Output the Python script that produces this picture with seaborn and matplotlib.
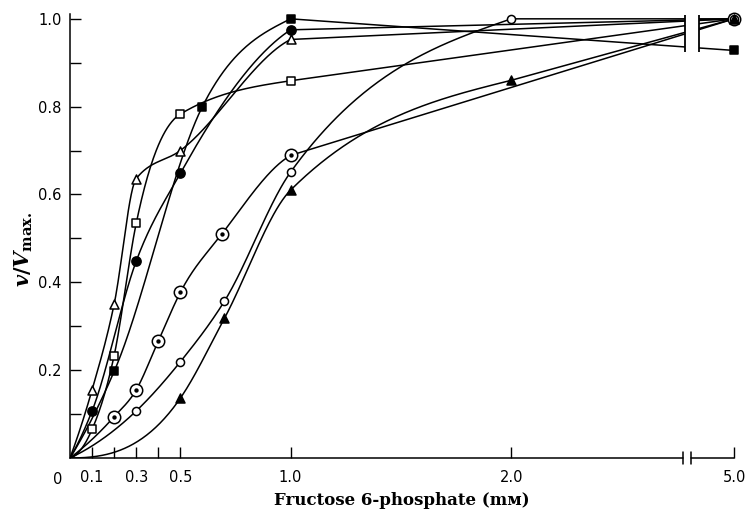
import numpy as np
import matplotlib
matplotlib.use("Agg")
import matplotlib.pyplot as plt
import seaborn as sns

# ---------------- data ----------------
open_tri_x = [0.1, 0.2, 0.3, 0.5, 1.0, 5.0]
open_tri_v = [0.155, 0.35, 0.636, 0.70, 0.953, 1.0]

open_sq_x = [0.1, 0.2, 0.3, 0.5, 1.0, 5.0]
open_sq_v = [0.065, 0.233, 0.534, 0.783, 0.859, 1.0]

fill_sq_x = [0.2, 0.6, 1.0, 5.0]
fill_sq_v = [0.197, 0.80, 1.0, 0.928]

fill_circ_x = [0.1, 0.3, 0.5, 1.0, 5.0]
fill_circ_v = [0.107, 0.448, 0.648, 0.975, 1.0]

dot_circ_x = [0.2, 0.3, 0.4, 0.5, 0.69, 1.0, 5.0]
dot_circ_v = [0.094, 0.155, 0.266, 0.377, 0.511, 0.689, 1.0]

open_circ_x = [0.3, 0.5, 0.7, 1.0, 2.0, 5.0]
open_circ_v = [0.107, 0.219, 0.357, 0.651, 1.0, 1.0]

fill_tri_x = [0.5, 0.7, 1.0, 2.0, 5.0]
fill_tri_v = [0.136, 0.318, 0.61, 0.86, 1.0]

x_ticks = [0.1, 0.2, 0.3, 0.4, 0.5, 1.0, 2.0, 5.0]
x_tick_labels = ["0.1", "", "0.3", "", "0.5", "1.0", "2.0", "5.0"]
y_ticks = [0.1, 0.2, 0.3, 0.4, 0.5, 0.6, 0.7, 0.8, 0.9, 1.0]
y_tick_labels = ["", "0.2", "", "0.4", "", "0.6", "", "0.8", "", "1.0"]

x_label = "Fructose 6-phosphate (mᴍ)"
y_label = r"$v/V_{\mathrm{max.}}$"

# ---------------- style ----------------
sns.set_theme(style="ticks")
plt.rcParams["font.family"] = ["DejaVu Sans"]
plt.rcParams["mathtext.fontset"] = "custom"
plt.rcParams["mathtext.it"] = "DejaVu Serif:italic:bold"
plt.rcParams["mathtext.rm"] = "DejaVu Serif:bold"
plt.rcParams["mathtext.bf"] = "DejaVu Serif:bold"

# broken x axis: piecewise linear scale
L_BRK, R_BRK = 2.79, 4.8
GAP_U = 0.06
S_RIGHT = 0.8
kx = np.array([-1.0, 0.0, L_BRK, R_BRK, 10.0])
ku = np.array([-1.0, 0.0, L_BRK, L_BRK + GAP_U, L_BRK + GAP_U + (10.0 - R_BRK) * S_RIGHT])


def fwd(x):
    return np.interp(x, kx, ku)


def inv(u):
    return np.interp(u, ku, kx)


def smooth_curve(x, y, xs):
    """Cubic Hermite curve with smooth slopes, limited to avoid
    overshoot and spurious wiggles."""
    x = np.asarray(x, float)
    y = np.asarray(y, float)
    n = len(x)
    h = np.diff(x)
    d = np.diff(y) / h
    m = np.gradient(y, x, edge_order=2)
    m[0] = max(m[0], 0.0)
    m[-1] = 0.5 * d[-1]
    for k in range(1, n - 1):
        m[k] = max(0.0, min(m[k], 2.0 * d[k], 3.0 * d[k - 1]))
    m[0] = min(m[0], 2.0 * d[0])
    idx = np.clip(np.searchsorted(x, xs) - 1, 0, n - 2)
    t = (xs - x[idx]) / h[idx]
    h00 = 2 * t**3 - 3 * t**2 + 1
    h10 = t**3 - 2 * t**2 + t
    h01 = -2 * t**3 + 3 * t**2
    h11 = t**3 - t**2
    return (h00 * y[idx] + h10 * h[idx] * m[idx] + h01 * y[idx + 1]
            + h11 * h[idx] * m[idx + 1])


W, H = 749, 515
fig = plt.figure(figsize=(W / 100, H / 100), dpi=100)
ax = fig.add_axes([70 / W, 57 / H, 664 / W, 444 / H])

series = [
    (open_tri_x, open_tri_v, "^", "white", 42),
    (open_sq_x, open_sq_v, "s", "white", 36),
    (fill_sq_x, fill_sq_v, "s", "black", 40),
    (fill_circ_x, fill_circ_v, "o", "black", 44),
    (dot_circ_x, dot_circ_v, "o", "white", 80),
    (open_circ_x, open_circ_v, "o", "white", 34),
    (fill_tri_x, fill_tri_v, "^", "black", 42),
]

for xs_, vs_, mk, fc, sz in series:
    cx = [0.0] + list(xs_[:-1])
    cv = [0.0] + list(vs_[:-1])
    xx = np.linspace(0.0, cx[-1], 300)
    yy = smooth_curve(cx, cv, xx)
    xx = np.append(xx, xs_[-1])
    yy = np.append(yy, vs_[-1])
    sns.lineplot(x=xx, y=yy, sort=False, estimator=None, color="black",
                 lw=1.1, ax=ax, zorder=2)

for xs_, vs_, mk, fc, sz in series:
    sns.scatterplot(x=xs_, y=vs_, marker=mk, s=sz, color=fc,
                    edgecolor="black", linewidth=1.1, zorder=6,
                    clip_on=False, ax=ax)

# centre dots of the dotted circles
sns.scatterplot(x=dot_circ_x, y=dot_circ_v, marker="o", s=10, color="black",
                edgecolor="black", linewidth=0, zorder=7, clip_on=False, ax=ax)

ax.set_xscale("function", functions=(fwd, inv))
ax.set_xlim(0, 5.0)
ax.set_ylim(0, 1.011)

# white gap at the axis break
ax.axvspan(L_BRK, R_BRK, ymin=0.88, ymax=1.0, facecolor="white",
           edgecolor="none", zorder=3)
ax.vlines([L_BRK, R_BRK], 0.925, 1.008, color="black", lw=1.3, zorder=4)

# axes / spines
sns.despine(ax=ax)
ax.spines["left"].set_linewidth(1.1)
ax.spines["left"].set_color("black")
ax.spines["bottom"].set_visible(False)
xb1, xb2 = inv(2.778), inv(2.815)
xtr = ax.get_xaxis_transform()
ax.plot([0, xb1], [0, 0], color="black", lw=1.1, transform=xtr, clip_on=False)
ax.plot([xb2, 5.0], [0, 0], color="black", lw=1.1, transform=xtr, clip_on=False)
dy = 6 / 444
for xb in (xb1, xb2):
    ax.plot([xb, xb], [-dy, dy], color="black", lw=1.1, transform=xtr,
            clip_on=False)

ax.set_xticks(x_ticks)
ax.set_xticklabels(x_tick_labels)
ax.set_yticks(y_ticks)
ax.set_yticklabels(y_tick_labels)
ax.minorticks_off()
ax.tick_params(axis="x", direction="in", length=8, width=1.0, color="black",
               labelsize=10.5, pad=9, labelcolor="black")
ax.tick_params(axis="y", direction="in", length=8, width=1.0, color="black",
               labelsize=10.5, pad=6, labelcolor="black")

ax.annotate("0", xy=(0, 0), xycoords=xtr, xytext=(-12, -21),
            textcoords="offset pixels", ha="center", va="center",
            fontsize=10.5, color="black")

ax.set_xlabel(x_label, family=["DejaVu Serif", "DejaVu Sans"],
              fontweight="bold", fontsize=12, color="black", labelpad=5)
ax.set_ylabel(y_label, fontsize=15, color="black")
ax.yaxis.set_label_coords(-0.053, 0.47)

ax.set_facecolor("white")
fig.patch.set_facecolor("white")
fig.savefig("out.png", dpi=100, facecolor="white")
